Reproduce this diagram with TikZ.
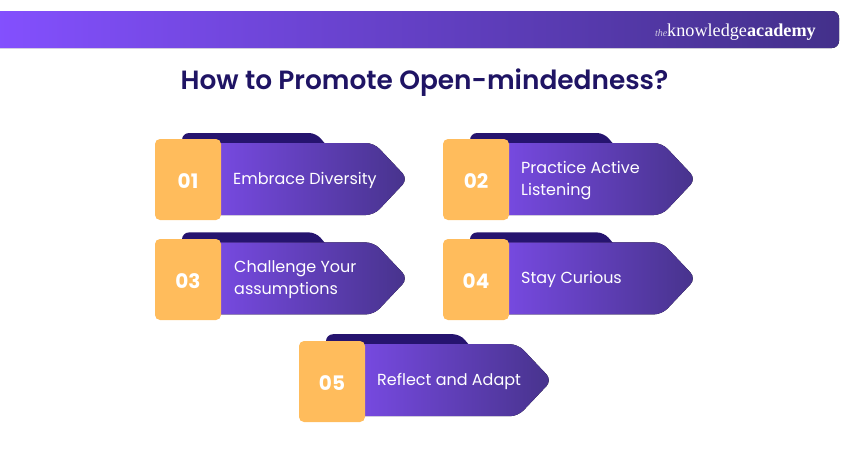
\documentclass[tikz,border=0pt]{standalone}
\usepackage{fontspec}
\setmainfont{Poppins}[BoldFont={Poppins SemiBold}]
\newfontfamily\numfont{Poppins Bold}
\newfontfamily\logofont{Liberation Serif}
\definecolor{barleft}{HTML}{8450FF}
\definecolor{barright}{HTML}{43308A}
\definecolor{bodyleft}{HTML}{7A4BE6}
\definecolor{bodymid}{HTML}{5E3EB4}
\definecolor{bodyright}{HTML}{47338C}
\definecolor{tabdark}{HTML}{26146F}
\definecolor{numorange}{HTML}{FFBC5C}
\definecolor{titleblue}{HTML}{1F1464}
\tikzset{
    numbox/.style={fill=numorange, rounded corners=5pt, minimum width=66pt, minimum height=81pt,
        inner sep=0pt, text=white, text height=17pt, text depth=0pt, font=\numfont\fontsize{20}{24}\selectfont},
    cardtext/.style={text=white, align=left, anchor=west, inner sep=0pt,
        font=\fontsize{16}{22}\selectfont},
    pics/cardback/.style={code={
        \fill[tabdark, rounded corners=7pt] (-39,12) -- (-39,-6) -- (95,-6) -- (112,14) -- cycle;
        \fill[left color=bodyleft, middle color=bodymid, right color=bodyright, rounded corners=8pt]
            (-16,4) -- (-16,76) -- (153,76) -- (187,40) -- (153,4) -- cycle;
    }},
}
\begin{document}
\begin{tikzpicture}[x=1pt, y=-1pt]
    \useasboundingbox (0,0) rectangle (850,450);
    % Header
    \fill[left color=barleft, right color=barright, rounded corners=7pt]
        (-10,11) rectangle (839,48);
    \node[anchor=base east, inner sep=0pt, text=white, font=\logofont\fontsize{18.2}{22}\selectfont](logo)
        at (816,36) {{\itshape\fontsize{10}{12}\selectfont\color{white!75!barright}the}knowledge\textbf{academy}};
    \node[text=titleblue, inner sep=0pt, font=\fontsize{26.4}{31}\selectfont\bfseries](title)
        at (424.5,83) {How to Promote Open-mindedness?};
    % Cards
    \pic at (221,139) {cardback};
    \pic at (509,139) {cardback};
    \pic at (221,238.4) {cardback};
    \pic at (509,238.4) {cardback};
    \pic at (365,340.2) {cardback};
    \node[numbox](n1)   at (188,179.5) {01};
    \node[numbox](n2)   at (476,179.5) {02};
    \node[numbox](n3)   at (188,279.5) {03};
    \node[numbox](n4)   at (476,279.5) {04};
    \node[numbox](n5)   at (332,381.5) {05};
    \node[cardtext](t1) at (233,180) {Embrace Diversity};
    \node[cardtext](t2) at (521,180.5) {Practice Active\\Listening};
    \node[cardtext](t3) at (234,279.5) {Challenge Your\\assumptions};
    \node[cardtext](t4) at (521,279) {Stay Curious};
    \node[cardtext](t5) at (377,381) {Reflect and Adapt};
\end{tikzpicture}
\end{document}
